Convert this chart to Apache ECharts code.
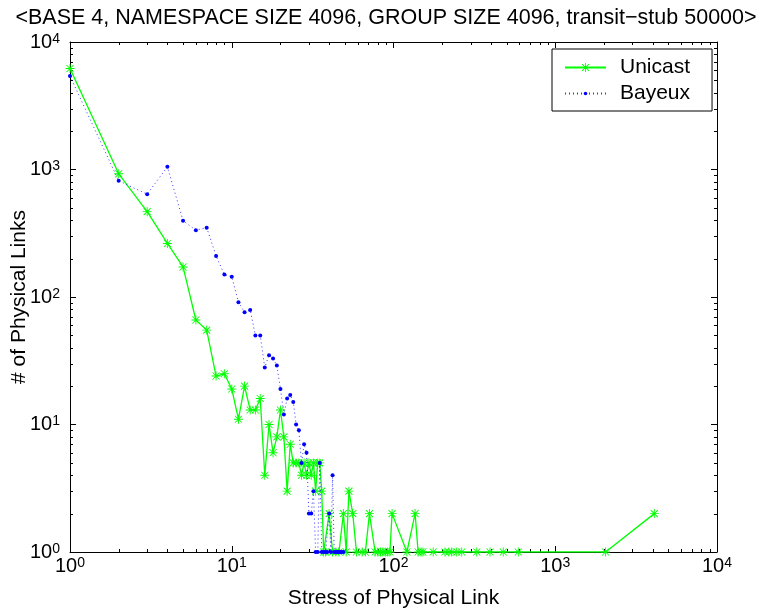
<!DOCTYPE html>
<html><head><meta charset="utf-8">
<script src="https://cdn.jsdelivr.net/npm/echarts@6/dist/echarts.min.js"></script>
<style>html,body{margin:0;padding:0;background:#fff}#c{width:772px;height:613px}</style>
</head><body><div id="c"></div>
<script>
const titleText = '<BASE 4, NAMESPACE SIZE 4096, GROUP SIZE 4096, transit\u2212stub 50000>';
const xAxisName = 'Stress of Physical Link';
const yAxisName = '# of Physical Links';
const seriesNames = ['Unicast', 'Bayeux'];
const axisMin = 1, axisMax = 10000;

const unicastX = [1,2,3,4,5,6,7,8,9,10,11,12,13,14,15,16,17,18,19,20,21,22,23,24,25,26,27,28,29,30,31,32,33,34,35,36,37,38,40,42,44,46,49,51,53,56,59,64,67,71,77,80,83,86,89,92,95,98,121,136,142,148,152,176,208,220,229,246,264,327,395,477,591,2048,4096];
const unicastY = [6200,925,467,263,172,66,55,24,25,19,11,20,13,13,16,4,10,6,8,13,8,3,7,5,5,5,4,5,4,5,4,5,3,5,5,3,1,1,2,1,1,1,2,1,3,2,1,1,1,2,1,1,1,1,1,1,1,2,1,2,1,1,1,1,1,1,1,1,1,1,1,1,1,1,2];

const bayeuxX = [1,2,3,4,5,6,7,8,9,10,11,12,13,14,15,16,17,18,19,20,21,22,23,24,25,26,27,28,29,30,31,32,33,34,35,36,37,38,39,40,41,42,43,44,45,46,47,48,49];
const bayeuxY = [5400,815,640,1050,397,334,350,210,150,144,91,76,79,50,50,28,35,33,29,19,12,16,17,15,10,9,5,7,6,2,2,3,1,1,5,1,1,1,1,2,1,4,1,1,1,1,1,1,1];

const FONT = '"Liberation Sans", Arial, Helvetica, sans-serif';
const starPath = 'path://M9 0L11 0L11 20L9 20Z M0 9L20 9L20 11L0 11Z M1.5 2.9L2.9 1.5L18.5 17.1L17.1 18.5Z M17.1 1.5L18.5 2.9L2.9 18.5L1.5 17.1Z';
const dotPath = 'path://M0 0M10 10M3 5A2 2 0 1 1 7 5A2 2 0 1 1 3 5Z';

function zip(xs, ys) { return xs.map((x, i) => [x, ys[i]]); }
function powLabel(v) {
  const e = Math.round(Math.log10(v));
  return '{b|10}{s|' + e + '}';
}
const richPow = {
  b: { fontSize: 20, fontFamily: FONT, color: '#000', lineHeight: 20, padding: [10, 0, 0, 0], verticalAlign: 'bottom' },
  s: { fontSize: 14, fontFamily: FONT, color: '#000', lineHeight: 14, verticalAlign: 'top' }
};

const chart = echarts.init(document.getElementById('c'), null, { renderer: 'canvas' });
const baseAxis = {
  type: 'log', logBase: 10, min: axisMin, max: axisMax,
  splitLine: { show: false },
  nameMoveOverlap: false,
  axisLine: { show: true, lineStyle: { color: '#000', width: 1 } },
  axisTick: { show: true, inside: true, length: 6, lineStyle: { color: '#000', width: 1 } }
};
chart.setOption({
  animation: false,
  backgroundColor: '#fff',
  title: {
    text: titleText, left: 'center', top: 2,
    textStyle: { fontSize: 21.5, fontWeight: 'normal', color: '#000', fontFamily: FONT }
  },
  grid: { left: 70, right: 55, top: 42, bottom: 61, containLabel: false, outerBoundsMode: 'none' },
  legend: {
    left: 552, top: 49, orient: 'vertical',
    data: seriesNames,
    itemWidth: 41, itemHeight: 11, itemGap: 5,
    padding: [8, 22, 7, 12],
    borderColor: '#000', borderWidth: 1, backgroundColor: '#fff',
    textStyle: { fontSize: 21, color: '#000', fontFamily: FONT, padding: [0, 0, 0, 9] },
    selectedMode: false
  },
  xAxis: [
    Object.assign({}, baseAxis, {
      position: 'bottom',
      name: xAxisName, nameLocation: 'middle', nameGap: 36,
      nameTextStyle: { fontSize: 21, color: '#000', fontFamily: FONT },
      axisLabel: { show: true, margin: 4, formatter: powLabel, rich: richPow, showMinLabel: true, showMaxLabel: true }
    }),
    Object.assign({}, baseAxis, { position: 'top', axisLabel: { show: false } })
  ],
  yAxis: [
    Object.assign({}, baseAxis, {
      position: 'left',
      name: yAxisName, nameLocation: 'middle', nameGap: 40,
      nameTextStyle: { fontSize: 21, color: '#000', fontFamily: FONT },
      axisLabel: { show: true, margin: 10, formatter: powLabel, rich: richPow, showMinLabel: true, showMaxLabel: true }
    }),
    Object.assign({}, baseAxis, { position: 'right', axisLabel: { show: false } })
  ],
  series: [
    {
      name: seriesNames[0], type: 'line', xAxisIndex: 0, yAxisIndex: 0,
      data: zip(unicastX, unicastY),
      symbol: starPath, symbolSize: 9, showAllSymbol: true,
      itemStyle: { color: '#00ff00' },
      lineStyle: { color: '#00ff00', width: 1.3 },
      z: 2
    },
    {
      name: seriesNames[1], type: 'line', xAxisIndex: 0, yAxisIndex: 0,
      data: zip(bayeuxX, bayeuxY),
      symbol: dotPath, symbolSize: 10, showAllSymbol: true,
      itemStyle: { color: '#0000ff' },
      lineStyle: { color: '#0000ff', width: 1, type: [1, 3], opacity: 0.8 },
      z: 3
    }
  ]
});

// minor ticks (2..9 per decade) placed through the axes' own scales
const elems = [];
const px = v => chart.convertToPixel({ xAxisIndex: 0 }, v);
const py = v => chart.convertToPixel({ yAxisIndex: 0 }, v);
const xL = px(axisMin), xR = px(axisMax), yB = py(axisMin), yT = py(axisMax);
const minorLen = 3;
const tickStyle = { stroke: '#000', lineWidth: 1 };
for (let d = 1; d < axisMax; d *= 10) {
  for (let k = 2; k <= 9; k++) {
    const v = k * d;
    const x = Math.round(px(v)) + 0.5;
    const y = Math.round(py(v)) + 0.5;
    elems.push({ type: 'line', silent: true, shape: { x1: x, y1: yB, x2: x, y2: yB - minorLen }, style: tickStyle });
    elems.push({ type: 'line', silent: true, shape: { x1: x, y1: yT, x2: x, y2: yT + minorLen }, style: tickStyle });
    elems.push({ type: 'line', silent: true, shape: { x1: xL, y1: y, x2: xL + minorLen, y2: y }, style: tickStyle });
    elems.push({ type: 'line', silent: true, shape: { x1: xR, y1: y, x2: xR - minorLen, y2: y }, style: tickStyle });
  }
}
chart.setOption({ graphic: { elements: elems } });
</script>
</body></html>
